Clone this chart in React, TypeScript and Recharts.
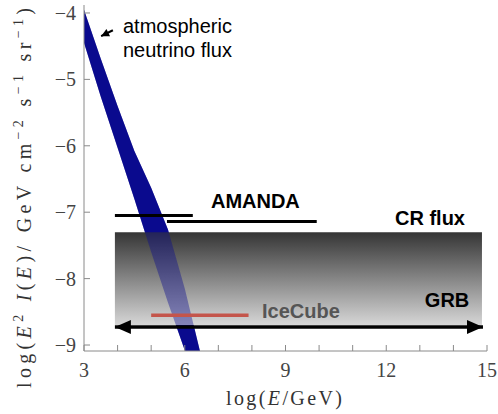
import { ComposedChart, Area, Line, XAxis, YAxis, ReferenceDot } from 'recharts';

// axis ticks
const X_TICKS = [3, 4, 5, 6, 7, 8, 9, 10, 11, 12, 13, 14, 15];
const Y_TICKS = [-9, -8, -7, -6, -5, -4];

// atmospheric neutrino flux band (lower / upper edge)
const BAND_X = [3, 3.5, 4, 4.5, 5, 5.5, 6, 6.5];
const BAND_HI = [-3.95, -4.69, -5.4, -6.08, -6.63, -7.26, -8.15, -9.19];
const BAND_LO = [-4.45, -5.26, -6.03, -6.8, -7.6, -8.36, -9.08, -9.9];

// CR flux shaded box
const BOX_X = [3.92, 14.85];
const BOX_Y = [-8.7, -7.3];

// limits
const AMANDA_A_X = [3.92, 6.24];
const AMANDA_A_Y = -7.05;
const AMANDA_B_X = [5.47, 9.93];
const AMANDA_B_Y = -7.14;
const ICECUBE_X = [5.0, 7.9];
const ICECUBE_Y = -8.55;
const GRB_X = [3.92, 14.88];
const GRB_Y = -8.73;

// little pointer to the band
const POINTER_X = [3.86, 3.51];
const POINTER_Y = [-4.26, -4.35];

const bandData = BAND_X.map((x, i) => ({ x, band: [BAND_LO[i], BAND_HI[i]] }));
const boxData = BOX_X.map((x) => ({ x, box: [BOX_Y[0], BOX_Y[1]] }));
const seg = (xs: number[], y: number) => xs.map((x) => ({ x, y }));
const pointerData = POINTER_X.map((x, i) => ({ x, y: POINTER_Y[i] }));

const SERIF = 'Liberation Serif, DejaVu Serif, serif';
const SANS = 'Liberation Sans, Arial, sans-serif';
const AXIS = '#8a8a8a';
const NAVY = '#0b0b8e';

function arrowHead(cx: number, cy: number, angle: number, len: number, hw: number, key: string) {
    const a = (angle * Math.PI) / 180;
    const dx = Math.cos(a), dy = Math.sin(a);
    const bx = cx - dx * len, by = cy - dy * len;
    const nx = -dy, ny = dx;
    const d = `M${cx},${cy} L${bx + nx * hw},${by + ny * hw} L${bx - nx * hw},${by - ny * hw} Z`;
    return <path key={key} d={d} fill="#000" />;
}

function note(x: number, y: number, text: string, opts: { bold?: boolean; color?: string } = {}) {
    return (
        <ReferenceDot
            key={text}
            x={x}
            y={y}
            r={1}
            ifOverflow="visible"
            shape={(p: any) => (
                <text
                    x={p.cx}
                    y={p.cy}
                    style={{ fontFamily: SANS }}
                    fontSize={20}
                    fontWeight={opts.bold ? 'bold' : 'normal'}
                    fill={opts.color || '#000'}
                >
                    {text}
                </text>
            )}
        />
    );
}

const XTick = ({ x, y, payload }: any) =>
    payload.value % 3 === 0 ? (
        <text x={x} y={y} dy={14} textAnchor="middle" style={{ fontFamily: SERIF }} fontSize={20} fill="#444">
            {payload.value}
        </text>
    ) : (
        <g />
    );

const YTick = ({ x, y, payload }: any) => (
    <text x={x} y={y} dy={7} textAnchor="end" style={{ fontFamily: SERIF }} fontSize={20} fill="#444">
        {'\u2212' + Math.abs(payload.value)}
    </text>
);

const YTitle = () => (
    <text
        transform="translate(31,198) rotate(-90)"
        textAnchor="middle"
        style={{ fontFamily: SERIF }}
        fontSize={20}
        fill="#333"
        textLength={380}
        lengthAdjust="spacing"
    >
        log(<tspan fontStyle="italic">E</tspan>
        <tspan dy={-8} fontSize={14}>2</tspan>
        <tspan dy={8}> </tspan>
        <tspan fontStyle="italic">I</tspan>(<tspan fontStyle="italic">E</tspan>)/ GeV cm
        <tspan dy={-8} fontSize={14}>−2</tspan>
        <tspan dy={8}> s</tspan>
        <tspan dy={-8} fontSize={14}>−1</tspan>
        <tspan dy={8}> sr</tspan>
        <tspan dy={-8} fontSize={14}>−1</tspan>
        <tspan dy={8}>)</tspan>
    </text>
);

const XTitle = () => (
    <text
        x={284}
        y={405}
        textAnchor="middle"
        style={{ fontFamily: SERIF }}
        fontSize={20}
        fill="#333"
        textLength={116}
        lengthAdjust="spacing"
    >
        log(<tspan fontStyle="italic">E</tspan>/GeV)
    </text>
);

export default function App() {
    return (
        <div style={{ position: 'absolute', left: 0, top: 0 }}>
            <ComposedChart width={498} height={414} margin={{ top: 5, right: 11, bottom: 0, left: 0 }}>
                <defs>
                    <linearGradient id="boxGrad" x1="0" y1="0" x2="0" y2="1">
                        <stop offset="0%" stopColor="#353535" />
                        <stop offset="100%" stopColor="#d6d6d6" />
                    </linearGradient>
                </defs>
                <XAxis
                    type="number"
                    dataKey="x"
                    domain={[3, 15]}
                    ticks={X_TICKS}
                    allowDataOverflow
                    height={63}
                    tickSize={-6}
                    tickMargin={18}
                    tick={<XTick />}
                    axisLine={{ stroke: AXIS }}
                    tickLine={{ stroke: AXIS }}
                    label={{ content: XTitle }}
                />
                <XAxis
                    xAxisId="top"
                    orientation="top"
                    type="number"
                    dataKey="x"
                    domain={[3, 15]}
                    ticks={X_TICKS}
                    height={0}
                    tickSize={-6}
                    tickFormatter={() => ''}
                    axisLine={{ stroke: AXIS }}
                    tickLine={{ stroke: AXIS }}
                />
                <YAxis
                    type="number"
                    domain={[-9.09, -3.88]}
                    ticks={Y_TICKS}
                    allowDataOverflow
                    width={84}
                    tickSize={-6}
                    tickMargin={14}
                    tick={<YTick />}
                    axisLine={{ stroke: AXIS }}
                    tickLine={{ stroke: AXIS }}
                    label={{ content: YTitle }}
                />
                <YAxis
                    yAxisId="right"
                    orientation="right"
                    type="number"
                    domain={[-9.09, -3.88]}
                    ticks={Y_TICKS}
                    width={0}
                    tickSize={-6}
                    tickFormatter={() => ''}
                    axisLine={{ stroke: AXIS }}
                    tickLine={{ stroke: AXIS }}
                />

                <Area data={bandData} dataKey="band" type="linear" fill={NAVY} fillOpacity={1} stroke="none" isAnimationActive={false} />
                <Area data={boxData} dataKey="box" type="linear" fill="url(#boxGrad)" fillOpacity={1} stroke="none" isAnimationActive={false} />
                <Area data={bandData} dataKey="band" type="linear" fill={NAVY} fillOpacity={0.4} stroke="none" isAnimationActive={false} />

                <Line data={seg(AMANDA_A_X, AMANDA_A_Y)} dataKey="y" stroke="#000" strokeWidth={3} dot={false} isAnimationActive={false} />
                <Line data={seg(AMANDA_B_X, AMANDA_B_Y)} dataKey="y" stroke="#000" strokeWidth={3} dot={false} isAnimationActive={false} />
                <Line data={seg(ICECUBE_X, ICECUBE_Y)} dataKey="y" stroke="#c4554b" strokeWidth={3.5} dot={false} isAnimationActive={false} />
                <Line
                    data={seg(GRB_X, GRB_Y)}
                    dataKey="y"
                    stroke="#000"
                    strokeWidth={3.5}
                    isAnimationActive={false}
                    dot={(p: any) => arrowHead(p.cx, p.cy, p.index === 0 ? 180 : 0, 16, 7, `grb-${p.index}`)}
                />
                <Line
                    data={pointerData}
                    dataKey="y"
                    stroke="#000"
                    strokeWidth={2}
                    isAnimationActive={false}
                    dot={(p: any) =>
                        p.index === 1 ? arrowHead(p.cx, p.cy, 153, 8, 4, 'ptr') : <g key="ptr0" />
                    }
                />

                {note(4.16, -4.3, 'atmospheric')}
                {note(4.16, -4.66, 'neutrino flux')}
                {note(6.78, -6.94, 'AMANDA', { bold: true })}
                {note(12.26, -7.19, 'CR flux', { bold: true })}
                {note(13.15, -8.43, 'GRB', { bold: true })}
                {note(8.3, -8.59, 'IceCube', { bold: true, color: '#555' })}
            </ComposedChart>
        </div>
    );
}
